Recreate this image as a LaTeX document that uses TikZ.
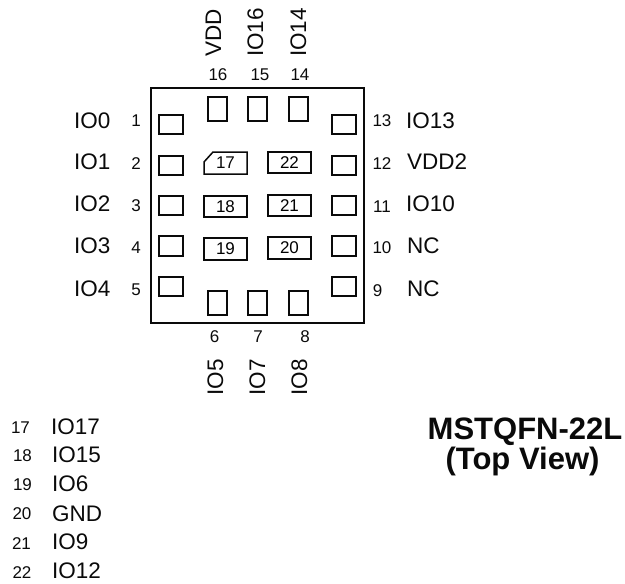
\documentclass[tikz,border=0pt]{standalone}
\usepackage{fontspec}
\setmainfont{Liberation Sans}
\definecolor{pin_black}{RGB}{10,10,10}
\begin{document}
\begin{tikzpicture}[x=1pt,y=-1pt,line join=miter]
    \tikzstyle{body}=[draw=pin_black, line width=2pt, minimum width=213pt, minimum height=235pt, inner sep=0pt]
    \tikzstyle{pad}=[draw=pin_black, line width=1.5pt, inner sep=0pt]
    \tikzstyle{sidepad}=[style=pad, minimum width=24pt, minimum height=19pt]
    \tikzstyle{endpad}=[style=pad, minimum width=19pt, minimum height=24pt]
    \tikzstyle{midpad}=[style=pad, minimum width=43pt, minimum height=21pt, font=\fontsize{17}{20}\selectfont]
    \tikzstyle{num}=[inner sep=0pt, text=pin_black, font=\fontsize{17}{20}\selectfont]
    \tikzstyle{sig}=[inner sep=0pt, text=pin_black, font=\fontsize{22.5}{26}\selectfont]
    \tikzstyle{title}=[inner sep=0pt, text=pin_black, font=\bfseries\fontsize{31}{36}\selectfont]
    \useasboundingbox (0,0) rectangle (625,584);

    % package outline
    \node[body] (pkg) at (257.5,205.5) {};

    % left and right rows
    \node[sidepad] (p1)  at (171,124.5) {};
    \node[sidepad] (p2)  at (171,165.5) {};
    \node[sidepad] (p3)  at (171,205.5) {};
    \node[sidepad,minimum height=20pt] (p4)  at (171,246)   {};
    \node[sidepad] (p5)  at (171,286.5) {};
    \node[sidepad] (p13) at (344,124.5) {};
    \node[sidepad] (p12) at (344,165.5) {};
    \node[sidepad] (p11) at (344,205.5) {};
    \node[sidepad,minimum height=20pt] (p10) at (344,246)   {};
    \node[sidepad] (p9)  at (344,286.5) {};

    % top and bottom rows
    \node[endpad] (p16) at (217.5,109) {};
    \node[endpad] (p15) at (257.5,109) {};
    \node[endpad] (p14) at (298.5,109) {};
    \node[endpad] (p6)  at (217.5,303) {};
    \node[endpad] (p7)  at (257.5,303) {};
    \node[endpad] (p8)  at (298.5,303) {};

    % center pads
    \draw[pin_black,line width=1.5pt] (204,162) -- (213,152) -- (247,152) -- (247,174) -- (204,174) -- cycle;
    \node[num] (p17) at (225.5,163) {17};
    \node[midpad] (p22) at (289.5,162.5) {22};
    \node[midpad] (p18) at (225.5,206.5) {18};
    \node[midpad] (p21) at (289.5,205.5) {21};
    \node[midpad,minimum height=22pt] (p19) at (225.5,249)   {19};
    \node[midpad,minimum height=22pt] (p20) at (289.5,248)   {20};

    % pin numbers
    \node[num] (n1)  at (136,121) {1};
    \node[num] (n2)  at (136,164) {2};
    \node[num] (n3)  at (136,206) {3};
    \node[num] (n4)  at (136,248) {4};
    \node[num] (n5)  at (136,290) {5};
    \node[num] (n13) at (382,121) {13};
    \node[num] (n12) at (382,164) {12};
    \node[num] (n11) at (382,207) {11};
    \node[num] (n10) at (382,248) {10};
    \node[num] (n9)  at (377.5,291) {9};
    \node[num] (n16) at (218,75)  {16};
    \node[num] (n15) at (260,75)  {15};
    \node[num] (n14) at (300,75)  {14};
    \node[num] (n6)  at (214.5,337) {6};
    \node[num] (n7)  at (258,337) {7};
    \node[num] (n8)  at (305,337) {8};

    % signal names
    \node[sig,anchor=west] (s1) at (74,120.5) {IO0};
    \node[sig,anchor=west] (s2) at (74,162) {IO1};
    \node[sig,anchor=west] (s3) at (74,204) {IO2};
    \node[sig,anchor=west] (s4) at (74,246) {IO3};
    \node[sig,anchor=west] (s5) at (74,289) {IO4};
    \node[sig,anchor=west] (s13) at (406,120.5) {IO13};
    \node[sig,anchor=west] (s12) at (407,162) {VDD2};
    \node[sig,anchor=west] (s11) at (406,204) {IO10};
    \node[sig,anchor=west] (s10) at (407,246) {NC};
    \node[sig,anchor=west] (s9)  at (407,289) {NC};
    \node[sig,rotate=90,anchor=base west] (s16) at (221,57) {VDD};
    \node[sig,rotate=90,anchor=base west] (s15) at (263,57) {IO16};
    \node[sig,rotate=90,anchor=base west] (s14) at (306,57) {IO14};
    \node[sig,rotate=90,anchor=base east] (s6)  at (223,359) {IO5};
    \node[sig,rotate=90,anchor=base east] (s7)  at (265,359) {IO7};
    \node[sig,rotate=90,anchor=base east] (s8)  at (307,359) {IO8};

    % legend for center pads
    \node[num] (k17) at (20.5,428) {17};
    \node[num] (k18) at (22.5,456) {18};
    \node[num] (k19) at (22.5,485) {19};
    \node[num] (k20) at (22,514) {20};
    \node[num] (k21) at (21.5,544) {21};
    \node[num] (k22) at (22,573) {22};
    \node[sig,anchor=west] (l17) at (51,427) {IO17};
    \node[sig,anchor=west] (l18) at (52,455) {IO15};
    \node[sig,anchor=west] (l19) at (52,484) {IO6};
    \node[sig,anchor=west] (l20) at (52,514) {GND};
    \node[sig,anchor=west] (l21) at (52,542) {IO9};
    \node[sig,anchor=west] (l22) at (52,571) {IO12};

    \node[title] (t1) at (525,432) {MSTQFN-22L};
    \node[title] (t2) at (522.5,461) {(Top View)};
\end{tikzpicture}
\end{document}
